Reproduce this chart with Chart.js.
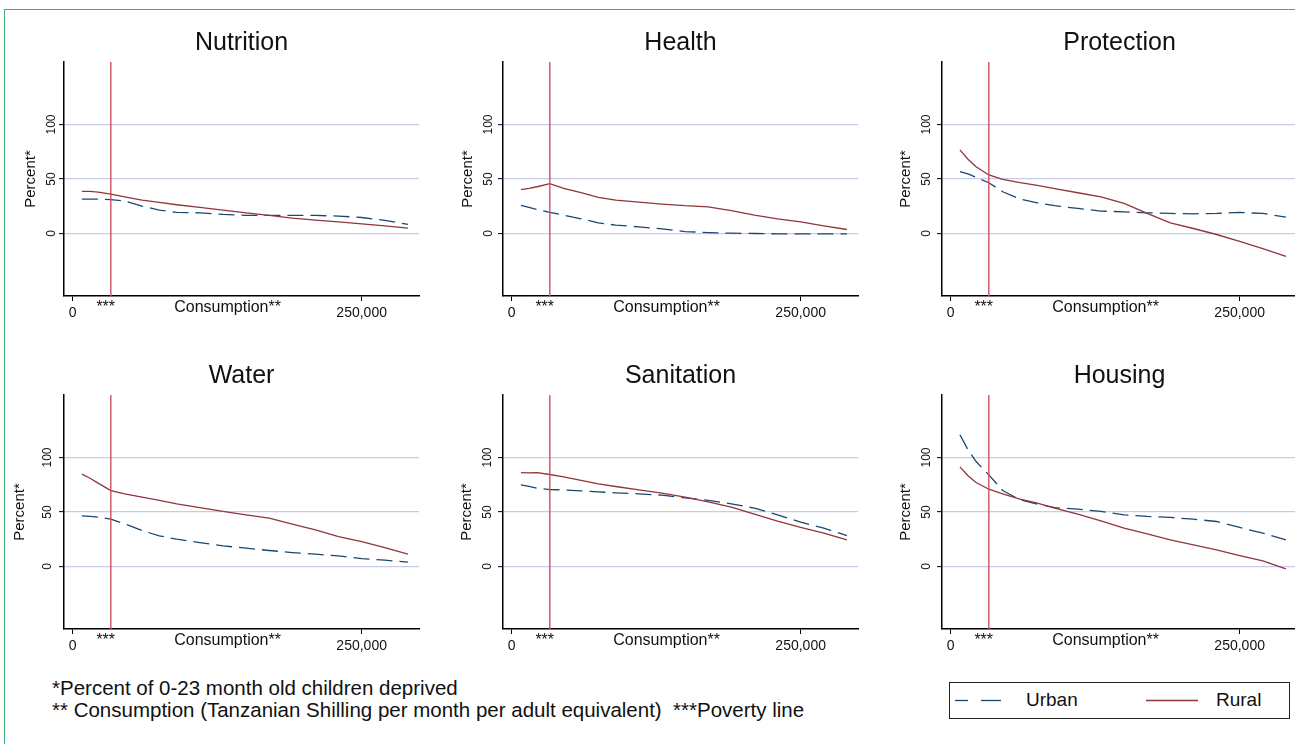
<!DOCTYPE html>
<html>
<head>
<meta charset="utf-8">
<title>Deprivation by consumption</title>
<script src="https://cdn.jsdelivr.net/npm/chart.js@4.4.1/dist/chart.umd.min.js"></script>
<style>
  html, body { margin: 0; padding: 0; background: #fff; }
  body { width: 1295px; height: 744px; overflow: hidden; position: relative;
         font-family: "Liberation Sans", Arial, sans-serif; color: #111; }
  #frame { position: absolute; left: 4px; top: 9px; width: 1400px; height: 800px;
           border-top: 1px solid #3fae6e; border-left: 1px solid #3fae6e; }
  .panel { position: absolute; width: 427px; height: 316px; }
  .notes { position: absolute; left: 52px; top: 677px; font-size: 20.5px; line-height: 22px; white-space: pre; }
  #legend { position: absolute; left: 949px; top: 682px; width: 339px; height: 35px; border: 1px solid #222; }
  #legend span { position: absolute; top: 5px; font-size: 19px; line-height: 24px; }
</style>
</head>
<body>
<div id="frame"></div>
<div id="panels"></div>
<div class="notes">*Percent of 0-23 month old children deprived
** Consumption (Tanzanian Shilling per month per adult equivalent)  ***Poverty line</div>
<div id="legend">
  <svg width="339" height="35" style="position:absolute;left:0;top:0">
    <line x1="5" y1="17.5" x2="18" y2="17.5" stroke="#1a476f" stroke-width="1.3"/>
    <line x1="31" y1="17.5" x2="51" y2="17.5" stroke="#1a476f" stroke-width="1.3"/>
    <line x1="196" y1="17.5" x2="248" y2="17.5" stroke="#90353b" stroke-width="1.3"/>
  </svg>
  <span style="left:76px">Urban</span>
  <span style="left:266px">Rural</span>
</div>
<script>
// consumption (TZS per month per adult equivalent) at which the curves were read
const consumption = [8000, 15000, 22000, 33000, 45000, 60000, 75000, 90000, 110000, 130000,
                     150000, 170000, 190000, 210000, 230000, 250000, 270000, 290000];
const povertyLine = 33000;

const xTickValues = [0, 28600, 134000, 250000];
const xTickLabels = ['0', '***', 'Consumption**', '250,000'];
const yTickValues = [0, 50, 100];

const panelTitles = ['Nutrition', 'Health', 'Protection', 'Water', 'Sanitation', 'Housing'];

const ruralNutrition = [38.7, 38.7, 38.0, 36.2, 33.7, 30.7, 28.5, 26.4, 23.9, 21.5, 19.0, 16.6, 14.1, 12.3, 10.7, 8.9, 7.1, 4.9];
const urbanNutrition = [31.6, 31.6, 31.6, 31.0, 29.8, 25.2, 21.5, 19.3, 19.0, 17.5, 16.6, 16.6, 16.6, 16.6, 16.0, 14.7, 12.0, 8.3];
const ruralHealth = [40.2, 41.4, 42.9, 45.7, 41.4, 37.4, 33.1, 30.7, 28.8, 27.0, 25.5, 24.5, 20.9, 16.9, 13.5, 10.7, 7.1, 3.7];
const urbanHealth = [25.8, 23.9, 22.1, 19.3, 16.9, 13.5, 9.8, 7.7, 6.1, 4.3, 1.8, 0.9, 0.3, 0.0, -0.3, -0.3, -0.3, -0.3];
const ruralProtection = [76.7, 68.1, 61.3, 53.7, 49.7, 46.6, 44.2, 41.1, 37.4, 33.7, 27.6, 18.4, 9.8, 4.6, -0.9, -7.1, -13.8, -20.9];
const urbanProtection = [56.7, 54.6, 51.5, 46.6, 38.3, 31.6, 28.2, 25.5, 23.0, 20.6, 19.9, 19.0, 18.4, 18.1, 18.4, 19.3, 18.4, 15.0];
const ruralWater = [84.7, 81.0, 76.5, 69.7, 66.7, 63.6, 60.6, 57.5, 54.1, 50.5, 47.4, 44.3, 38.8, 33.6, 27.5, 22.9, 17.4, 11.3];
const urbanWater = [46.5, 45.9, 45.3, 43.4, 39.1, 33.0, 28.1, 25.1, 22.0, 19.0, 16.8, 14.7, 12.8, 11.3, 9.8, 7.3, 5.8, 4.0];
const ruralSanitation = [86.2, 85.9, 86.2, 84.4, 82.3, 78.9, 75.8, 73.4, 70.3, 67.3, 63.6, 59.3, 54.4, 48.0, 41.6, 35.8, 30.6, 24.5];
const urbanSanitation = [74.9, 73.4, 71.9, 70.6, 70.3, 69.4, 68.5, 67.6, 66.7, 65.4, 63.0, 60.6, 57.5, 53.5, 47.4, 40.7, 35.2, 28.4];
const ruralHousing = [91.4, 83.2, 77.1, 70.9, 66.7, 61.8, 58.1, 53.5, 48.0, 41.9, 35.2, 30.0, 24.5, 19.9, 15.3, 10.1, 5.2, -2.1];
const urbanHousing = [120.8, 107.0, 96.3, 84.1, 69.7, 61.2, 57.2, 54.1, 52.6, 50.5, 47.4, 45.9, 45.0, 43.4, 41.3, 35.8, 30.6, 24.5];

const ruralSeries = [ruralNutrition, ruralHealth, ruralProtection, ruralWater, ruralSanitation, ruralHousing];
const urbanSeries = [urbanNutrition, urbanHealth, urbanProtection, urbanWater, urbanSanitation, urbanHousing];

const FONT = '"Liberation Sans", Arial, sans-serif';
const URBAN = '#1a476f';
const RURAL = '#90353b';
const Y_MIN = -57.3, Y_MAX = 157.3;

// panel placement: x of the y axis, top of the plot area
const axisLeft = [64, 503.3, 942];
const plotTop = [62, 395];
const yTitleGap = [33.3, 35.5, 36.2, 44, 36.3, 35.7];  // axis -> "Percent*" centre
const yTickGap = [12.3, 14.6, 15.3, 16.6, 15.6, 15.3];  // axis -> tick label centre

function toXY(values) {
    return values.map((v, i) => ({ x: consumption[i], y: v }));
}

const holder = document.getElementById('panels');

panelTitles.forEach((title, i) => {
    const col = i % 3, row = Math.floor(i / 3);
    const box = document.createElement('div');
    box.className = 'panel';
    box.style.left = (axisLeft[col] - 60) + 'px';
    box.style.top = (plotTop[row] - 52) + 'px';
    const canvas = document.createElement('canvas');
    canvas.width = 427;
    canvas.height = 316;
    box.appendChild(canvas);
    holder.appendChild(box);

    new Chart(canvas, {
        type: 'line',
        data: {
            datasets: [
                {
                    label: 'Poverty line',
                    data: [{ x: povertyLine, y: Y_MIN }, { x: povertyLine, y: Y_MAX }],
                    borderColor: '#cf4f61',
                    borderWidth: 1.4,
                },
                {
                    label: 'Rural',
                    data: toXY(ruralSeries[i]),
                    borderColor: RURAL,
                    borderWidth: 1.3,
                },
                {
                    label: 'Urban',
                    data: toXY(urbanSeries[i]),
                    borderColor: URBAN,
                    borderWidth: 1.3,
                    borderDash: [16, 7],
                }
            ]
        },
        options: {
            responsive: false,
            animation: false,
            events: [],
            elements: { point: { radius: 0 }, line: { tension: 0 } },
            layout: { padding: { left: 0, right: 12, top: 0, bottom: 0 } },
            plugins: {
                legend: { display: false },
                tooltip: { enabled: false },
                title: {
                    display: true,
                    fullSize: false,
                    text: title,
                    color: '#111',
                    font: { family: FONT, size: 25, weight: 'normal', lineHeight: 1.2 },
                    padding: { top: 18, bottom: 4 }
                }
            },
            scales: {
                x: {
                    type: 'linear',
                    min: -7500,
                    max: 299600,
                    afterBuildTicks: s => { s.ticks = xTickValues.map(v => ({ value: v })); },
                    afterFit: s => { s.height = 30; },
                    grid: {
                        drawOnChartArea: false,
                        tickLength: 5,
                        tickWidth: 1,
                        tickColor: c => (c.tick && (c.tick.value === 0 || c.tick.value === 250000)) ? '#000' : 'rgba(0,0,0,0)'
                    },
                    border: { color: '#000', width: 1.5 },
                    ticks: {
                        autoSkip: false,
                        maxRotation: 0,
                        minRotation: 0,
                        padding: 3,
                        color: '#111',
                        callback: v => xTickLabels[xTickValues.indexOf(v)],
                        font: c => {
                            const v = c.tick ? c.tick.value : 0;
                            if (v === 0 || v === 250000) return { family: FONT, size: 14, lineHeight: 1.25 };
                            return { family: FONT, size: 16, lineHeight: 0.4 };
                        }
                    }
                },
                y: {
                    type: 'linear',
                    min: Y_MIN,
                    max: Y_MAX,
                    afterBuildTicks: s => { s.ticks = yTickValues.map(v => ({ value: v })); },
                    afterFit: s => { s.width = 60; },
                    grid: { color: '#c9c9e9', lineWidth: 1.3, tickColor: '#000', tickLength: 5, tickWidth: 1 },
                    border: { color: '#000', width: 1.5 },
                    ticks: {
                        minRotation: 90,
                        maxRotation: 90,
                        crossAlign: 'center',
                        padding: yTickGap[i] - 15,
                        color: '#111',
                        font: { family: FONT, size: 12 }
                    },
                    title: {
                        display: true,
                        text: 'Percent*',
                        color: '#111',
                        font: { family: FONT, size: 15, lineHeight: 1.2 },
                        padding: { top: 60 - yTitleGap[i] - 9, bottom: 0 }
                    }
                }
            }
        }
    });
});
</script>
</body>
</html>
